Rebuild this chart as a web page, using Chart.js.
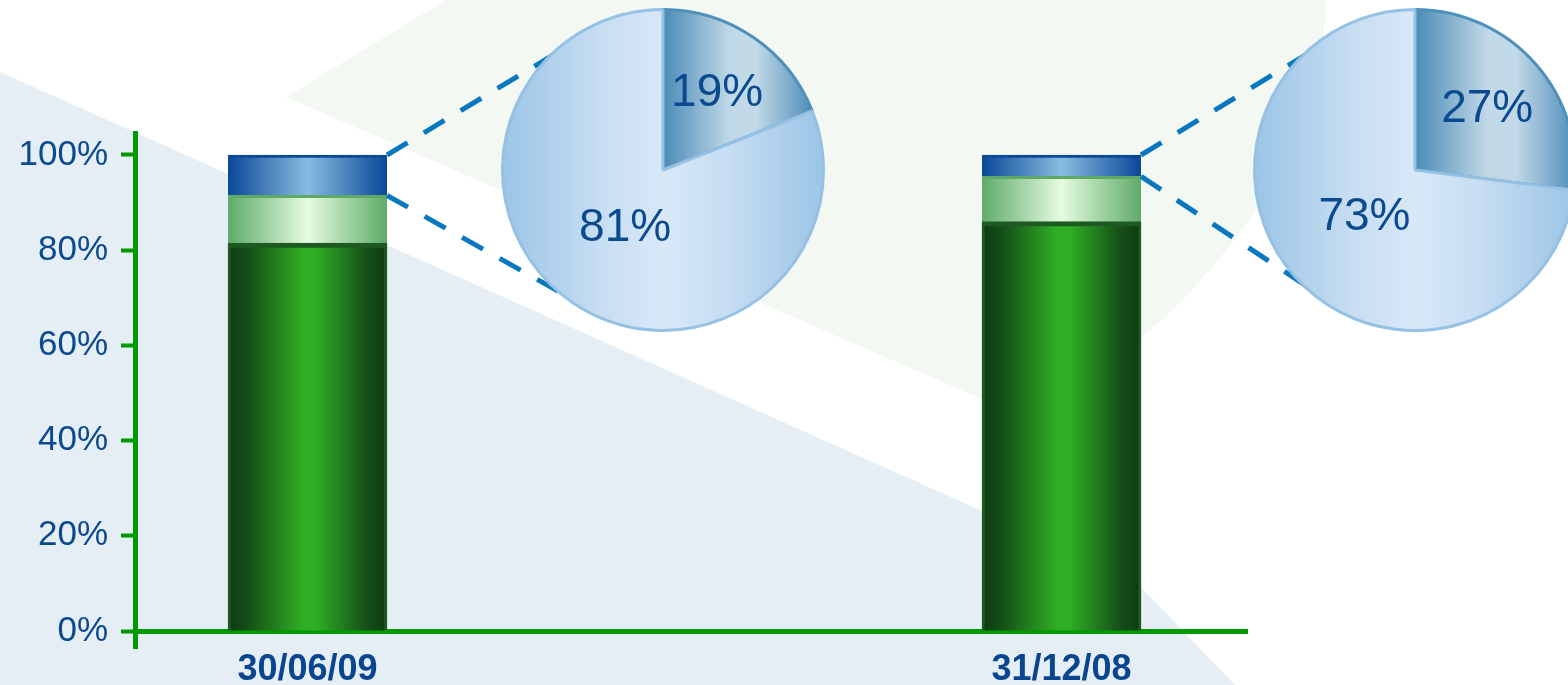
<!DOCTYPE html>
<html><head><meta charset="utf-8">
<script src="https://cdn.jsdelivr.net/npm/chart.js@4/dist/chart.umd.min.js"></script>
<style>
html,body{margin:0;padding:0;width:1568px;height:685px;overflow:hidden;background:#fff}
#wrap{position:relative;width:1568px;height:685px;overflow:hidden}
#wrap canvas{position:absolute}
</style></head><body>
<div id="wrap">
<canvas id="bar" width="1568" height="685" style="left:0;top:0"></canvas>
<canvas id="pie1" width="340" height="340" style="left:493px;top:0"></canvas>
<canvas id="pie2" width="340" height="340" style="left:1245px;top:0"></canvas>
</div>
<script>
// ---- data ----
const categories = ['30/06/09', '31/12/08'];
const darkGreenShare = [81.5, 86];
const lightGreenShare = [10, 9.5];
const blueShare = [8.5, 4.5];
const yTickValues = [0, 20, 40, 60, 80, 100];
const pie1Values = [19, 81];
const pie2Values = [27, 73];

// ---- layout constants ----
const FONT = "'Liberation Sans', Arial, sans-serif";
const BAR_W = 159;
const PIE_CENTERS = [{x: 663, y: 170}, {x: 1415, y: 170}];
const AXIS_GREEN = '#009900';
const TEXT_BLUE = '#0b4a8e';

function hGrad(ctx, x0, x1, stops, fallback) {
  if (!isFinite(x0) || !isFinite(x1) || x0 === x1) return fallback;
  const g = ctx.createLinearGradient(x0, 0, x1, 0);
  stops.forEach(s => g.addColorStop(s[0], s[1]));
  return g;
}
function barFill(stops) {
  const fb = stops[Math.floor(stops.length / 2)][1];
  return (c) => {
    const chart = c.chart;
    const xs = chart.scales && chart.scales.x;
    if (!xs || c.dataIndex === undefined) return fb;
    const cx = xs.getPixelForValue(c.dataIndex);
    return hGrad(chart.ctx, cx - BAR_W / 2, cx + BAR_W / 2, stops, fb);
  };
}

const bgPlugin = {
  id: 'bg',
  beforeDraw(chart) {
    const ctx = chart.ctx;
    ctx.save();
    ctx.fillStyle = '#ffffff';
    ctx.fillRect(0, 0, chart.width, chart.height);
    ctx.fillStyle = '#f3f8f2';
    ctx.beginPath();
    ctx.moveTo(446, 0);
    ctx.lineTo(1326, 0);
    ctx.bezierCurveTo(1322, 150, 1220, 300, 1030, 420);
    ctx.lineTo(286, 97);
    ctx.closePath();
    ctx.fill();
    ctx.fillStyle = '#e6eef5';
    ctx.beginPath();
    ctx.moveTo(0, 72);
    ctx.lineTo(1132, 578);
    ctx.lineTo(1235, 685);
    ctx.lineTo(0, 685);
    ctx.closePath();
    ctx.fill();
    ctx.restore();
  }
};

const connectorPlugin = {
  id: 'connectors',
  afterDatasetsDraw(chart) {
    const ctx = chart.ctx, xs = chart.scales.x, ys = chart.scales.y;
    ctx.save();
    ctx.strokeStyle = '#0a78be';
    ctx.lineWidth = 5;
    ctx.setLineDash([24, 19]);
    categories.forEach((c, i) => {
      const right = xs.getPixelForValue(i) + BAR_W / 2;
      const yTop = ys.getPixelForValue(darkGreenShare[i] + lightGreenShare[i] + blueShare[i]);
      const yBot = ys.getPixelForValue(darkGreenShare[i] + lightGreenShare[i]);
      const pc = PIE_CENTERS[i];
      ctx.beginPath(); ctx.moveTo(right, yTop); ctx.lineTo(pc.x - 80, pc.y - 133); ctx.stroke();
      ctx.beginPath(); ctx.moveTo(right, yBot); ctx.lineTo(pc.x - 80, pc.y + 135); ctx.stroke();
    });
    ctx.restore();
  }
};

const toXY = arr => arr.map((v, i) => ({x: i, y: v}));

new Chart(document.getElementById('bar'), {
  type: 'bar',
  data: {
    datasets: [
      {
        data: toXY(darkGreenShare),
        backgroundColor: barFill([[0, '#0f3a12'], [0.12, '#154d18'], [0.47, '#30ae24'], [0.55, '#30ae24'], [0.88, '#154d18'], [1, '#0f3a12']]),
        borderColor: '#1c5a22',
        borderWidth: {top: 5, left: 3, right: 3, bottom: 0},
        borderSkipped: false
      },
      {
        data: toXY(lightGreenShare),
        backgroundColor: barFill([[0, '#5fab69'], [0.5, '#e5fbe0'], [1, '#5fab69']]),
        borderColor: '#5ea967',
        borderWidth: {top: 3, left: 0, right: 0, bottom: 0},
        borderSkipped: false
      },
      {
        data: toXY(blueShare),
        backgroundColor: barFill([[0, '#0a4898'], [0.5, '#88bce1'], [1, '#0a4898']]),
        borderColor: '#0a4a96',
        borderWidth: {top: 3, left: 0, right: 0, bottom: 0},
        borderSkipped: false
      }
    ]
  },
  options: {
    responsive: false,
    animation: false,
    events: [],
    barThickness: BAR_W,
    layout: {padding: {left: 0, right: 321, top: 133, bottom: 37}},
    plugins: {legend: {display: false}, tooltip: {enabled: false}},
    scales: {
      x: {
        type: 'linear',
        position: {y: 0},
        stacked: true,
        offset: false,
        min: -0.2288,
        max: 1.246,
        afterBuildTicks: s => { s.ticks = categories.map((c, i) => ({value: i})); },
        grid: {display: false, drawTicks: false, offset: false},
        border: {display: true, color: AXIS_GREEN, width: 5},
        ticks: {
          callback: v => categories[v],
          font: {family: FONT, size: 36, weight: 'bold'},
          color: '#0a4590',
          padding: 17,
          maxRotation: 0,
          autoSkip: false
        }
      },
      y: {
        type: 'linear',
        stacked: true,
        min: -3.57,
        max: 104.62,
        afterBuildTicks: s => { s.ticks = yTickValues.map(v => ({value: v})); },
        afterFit: s => { s.width = 135; },
        grid: {display: true, drawOnChartArea: false, drawTicks: true, tickLength: 14, tickWidth: 4, tickColor: AXIS_GREEN},
        border: {display: true, color: AXIS_GREEN, width: 5},
        ticks: {
          callback: v => v + '%',
          font: {family: FONT, size: 35},
          color: TEXT_BLUE,
          padding: 13
        }
      }
    }
  },
  plugins: [bgPlugin, connectorPlugin]
});

function makePie(id, values) {
  const total = values.reduce((a, b) => a + b, 0);
  const sliceAngle = values[0] / total * 2 * Math.PI;
  const extent = sliceAngle >= Math.PI / 2 ? 1 : Math.sin(sliceAngle);
  const labelPlugin = {
    id: 'pieLabels',
    afterDatasetsDraw(chart) {
      const ctx = chart.ctx;
      const meta = chart.getDatasetMeta(0);
      ctx.save();
      ctx.fillStyle = TEXT_BLUE;
      ctx.font = '46px ' + FONT;
      ctx.textAlign = 'center';
      ctx.textBaseline = 'middle';
      meta.data.forEach((arc, i) => {
        const p = arc.getProps(['x', 'y', 'startAngle', 'endAngle', 'outerRadius'], true);
        const mid = (p.startAngle + p.endAngle) / 2;
        const f = i === 0 ? 0.6 : 0.42;
        ctx.fillText(values[i] + '%', p.x + Math.cos(mid) * p.outerRadius * f, p.y + Math.sin(mid) * p.outerRadius * f + 3);
      });
      ctx.restore();
    }
  };
  new Chart(document.getElementById(id), {
    type: 'pie',
    data: {
      labels: ['share', 'rest'],
      datasets: [{
        data: values,
        backgroundColor: (c) => {
          const chart = c.chart, a = chart.chartArea;
          const fb = c.dataIndex === 0 ? '#8fb8d4' : '#c6ddf2';
          if (!a || !isFinite(a.width) || a.width <= 0) return fb;
          const cx = (a.left + a.right) / 2, r = Math.min(a.width, a.height) / 2;
          if (c.dataIndex === 0) {
            return hGrad(chart.ctx, cx, cx + r * extent, [[0, '#4a8bb7'], [0.45, '#c2d9e8'], [0.62, '#c2d9e8'], [1, '#4a8bb7']], fb);
          }
          return hGrad(chart.ctx, cx - r, cx + r, [[0, '#9bc4e6'], [0.3, '#c6ddf2'], [0.5, '#d8e8f7'], [0.7, '#c6ddf2'], [1, '#9bc4e6']], fb);
        },
        borderColor: ['#4f90bb', '#95c1e4'],
        borderWidth: 3
      }]
    },
    options: {
      responsive: false,
      animation: false,
      events: [],
      layout: {padding: 8},
      plugins: {legend: {display: false}, tooltip: {enabled: false}}
    },
    plugins: [labelPlugin]
  });
}
makePie('pie1', pie1Values);
makePie('pie2', pie2Values);
</script>
</body></html>
